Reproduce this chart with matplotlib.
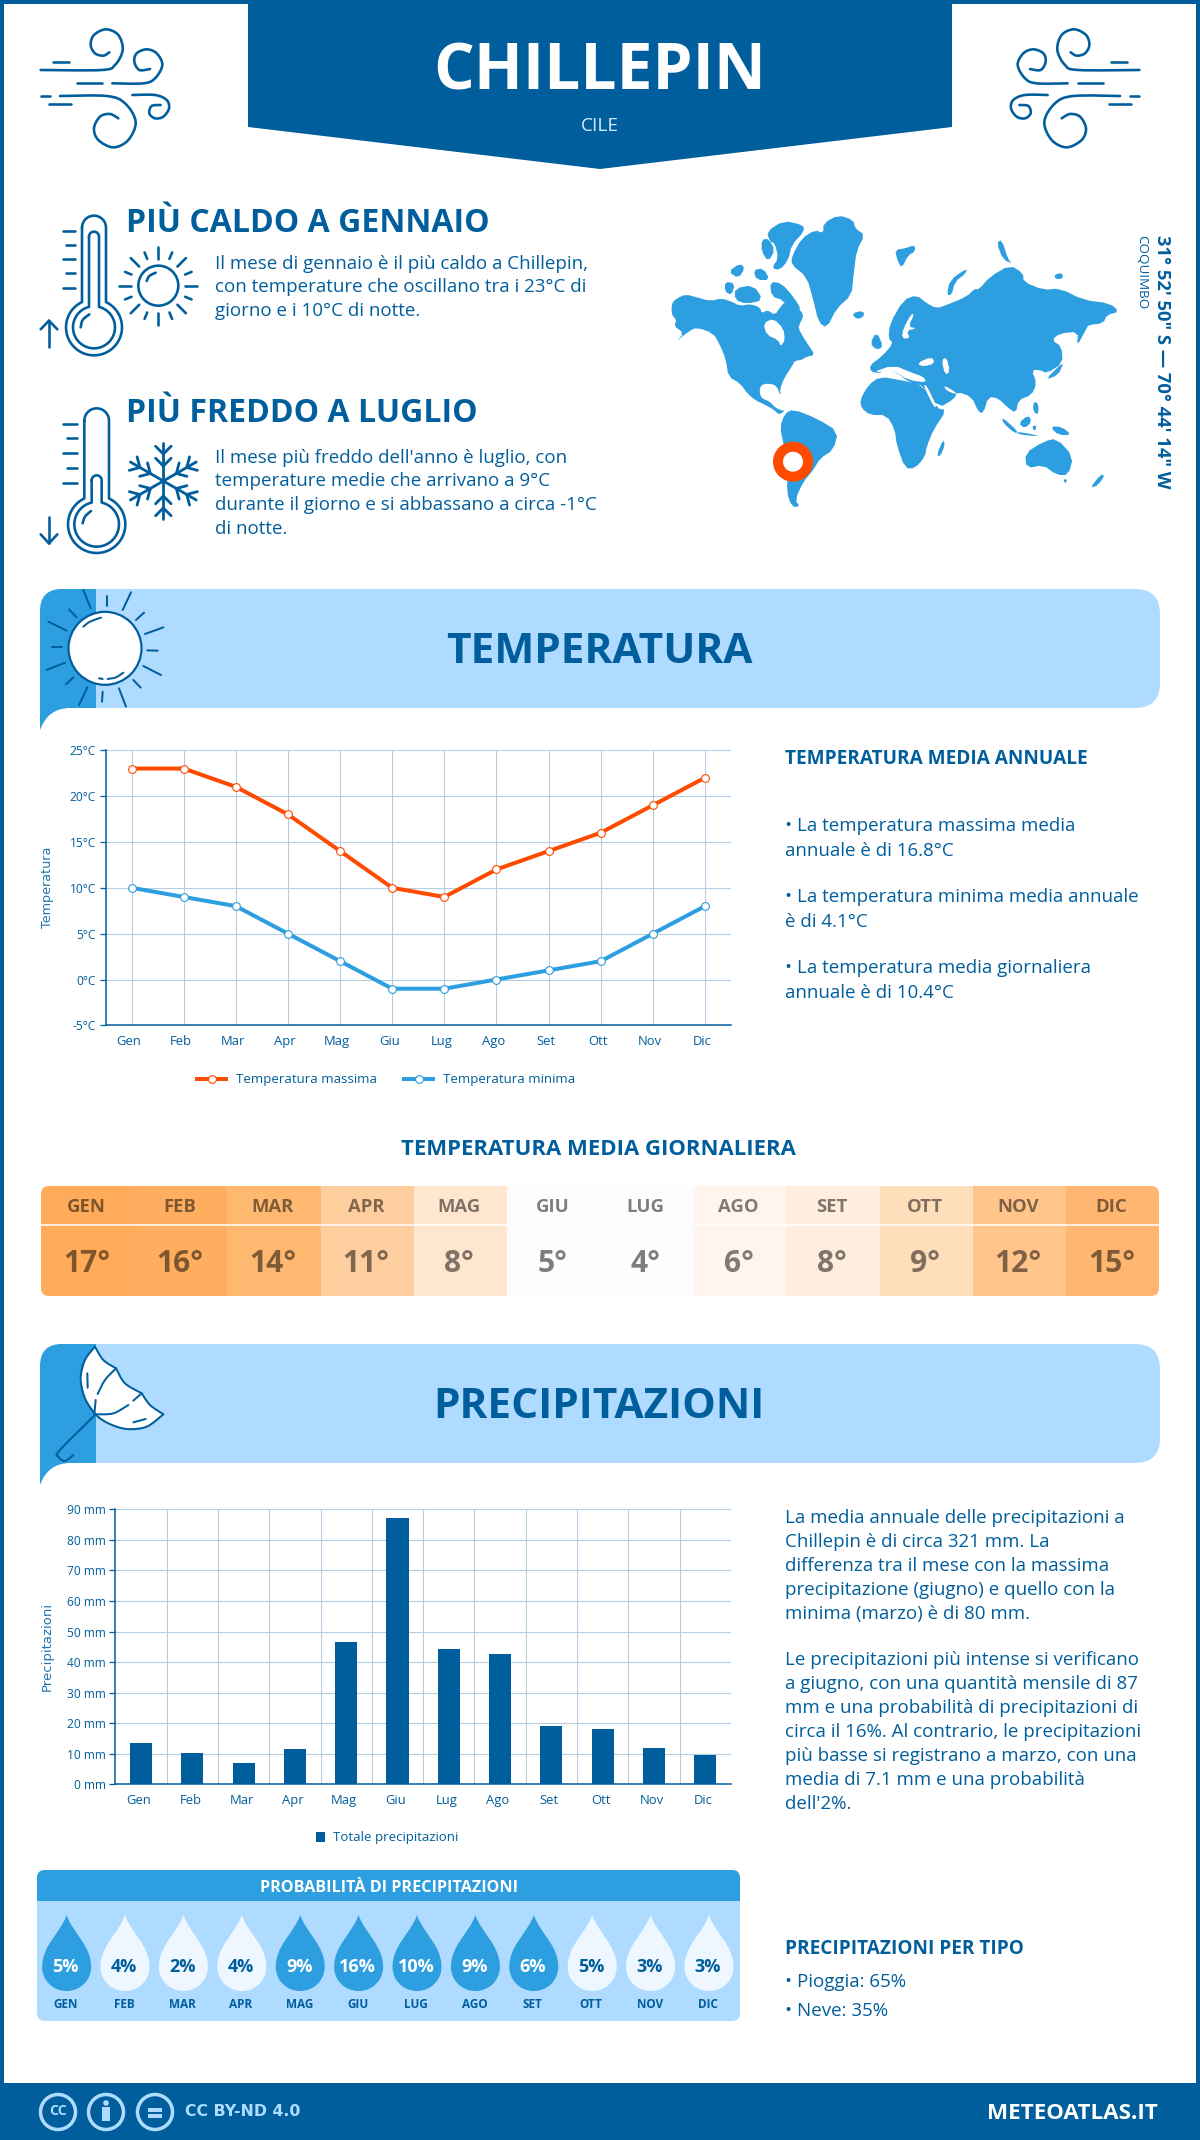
import numpy as np
import matplotlib
matplotlib.use("Agg")
import matplotlib.pyplot as plt
from matplotlib.patches import FancyBboxPatch, Rectangle, Circle, Polygon, PathPatch
from matplotlib.path import Path
from matplotlib.transforms import ScaledTranslation

plt.rcParams['font.family'] = ['Open Sans', 'DejaVu Sans']

# ---------- data ----------
months = ["Gen", "Feb", "Mar", "Apr", "Mag", "Giu", "Lug", "Ago", "Set", "Ott", "Nov", "Dic"]
months_upper = [m.upper() for m in months]
temp_max = [23, 23, 21, 18, 14, 10, 9, 12, 14, 16, 19, 22]
temp_min = [10, 9, 8, 5, 2, -1, -1, 0, 1, 2, 5, 8]
temp_ticks = [-5, 0, 5, 10, 15, 20, 25]
temp_daily = [17, 16, 14, 11, 8, 5, 4, 6, 8, 9, 12, 15]
temp_daily_colors = ["#FFAB5A", "#FFAE60", "#FFB870", "#FFCE9E", "#FFE6CE", "#FFFDFB",
                     "#FDFDFF", "#FFF5EC", "#FFEEDD", "#FFDEBC", "#FFC58B", "#FFB670"]
precip = [13.5, 10.2, 7.1, 11.5, 46.5, 87, 44.2, 42.6, 19, 18, 12, 9.5]
precip_ticks = [0, 10, 20, 30, 40, 50, 60, 70, 80, 90]
rain_prob = [5, 4, 2, 4, 9, 16, 10, 9, 6, 5, 3, 3]
rain_prob_dark = [True, False, False, False, True, True, True, True, True, False, False, False]

DARK = "#015E9C"
MID = "#2D9EDF"
LIGHT = "#AEDBFF"
ORANGE = "#FF4B00"
GRID = "#B4CFE4"

W, H = 1200, 2140
fig = plt.figure(figsize=(W / 100, H / 100), dpi=100, facecolor="white")
ax0 = fig.add_axes([0, 0, 1, 1])
ax0.set_xlim(0, W)
ax0.set_ylim(H, 0)
ax0.axis("off")


def T(x, y, s, px, color=DARK, ha="left", va="center", weight="normal", family=None, **kw):
    if family is not None:
        kw["family"] = family
    else:
        y = y + 0.09 * px
    return ax0.text(x, y, s, fontsize=px * 0.72, color=color, ha=ha, va=va, weight=weight, **kw)


def curve(pts, lw=2.2, color=DARK, fill=None, ax=ax0, z=5):
    pts = np.asarray(pts, float)
    if len(pts) == 2:
        verts, codes = pts, [Path.MOVETO, Path.LINETO]
    else:
        P = np.vstack([pts[0], pts, pts[-1]])
        verts, codes = [pts[0]], [Path.MOVETO]
        for i in range(1, len(P) - 2):
            c1 = P[i] + (P[i + 1] - P[i - 1]) / 6
            c2 = P[i + 1] - (P[i + 2] - P[i]) / 6
            verts += [c1, c2, P[i + 1]]
            codes += [Path.CURVE4] * 3
    ax.add_patch(PathPatch(Path(verts, codes), fc=fill if fill else "none", ec=color,
                           lw=lw * 0.72, capstyle="round", joinstyle="round", zorder=z))


def zm(x0, y0, pts, f=3.0):
    return [(x0 + a / f, y0 + b / f) for a, b in pts]


# ---------- frame / header ----------
for r in [(0, 0, 4, H), (1196, 0, 4, H), (0, 0, W, 4)]:
    ax0.add_patch(Rectangle(r[:2], r[2], r[3], fc=DARK, ec="none", zorder=1))
ax0.add_patch(Polygon([(248, 0), (952, 0), (952, 127), (600, 169), (248, 127)], fc=DARK, ec="none", zorder=1))
T(600, 67, "CHILLEPIN", 64, color="white", ha="center", weight="bold")
T(600, 124, "CILE", 19, color="#D7ECFB", ha="center")


# wind icons
wind = [
    [(62, 180), (245, 180), (285, 165), (308, 120), (295, 75), (258, 58), (222, 75), (212, 105), (225, 130), (250, 137), (268, 127)],
    [(100, 155), (148, 155)],
    [(170, 220), (245, 220)],
    [(277, 220), (370, 220), (405, 205), (427, 165), (410, 130), (380, 118), (350, 130), (343, 155), (358, 180), (390, 177)],
    [(62, 258), (90, 258)],
    [(120, 258), (260, 258), (315, 280), (347, 335), (325, 390), (280, 412), (235, 390), (222, 355), (240, 320), (270, 312), (295, 325)],
    [(87, 283), (153, 283)],
    [(337, 255), (405, 255), (440, 270), (447, 295), (430, 320), (405, 325), (388, 310), (395, 288), (422, 285)],
]
for w in wind:
    p = zm(20, 10, w)
    curve(p, lw=2.6)
    curve([(1180 - a, b) for a, b in p], lw=2.6)


def thermo(x0, y0, cx, hw, ytop, by, R):
    th0 = np.arcsin(hw / R)
    th = np.linspace(th0, 2 * np.pi - th0, 60)
    ph = np.linspace(np.pi, 0, 20)
    ytopc = ytop + hw
    xs = list(cx + hw * np.cos(ph)) + list(cx + R * np.sin(th))
    ys = list(ytopc - hw * np.sin(ph)) + list(by - R * np.cos(th))
    xs.append(xs[0]); ys.append(ys[0])
    v = np.column_stack([x0 + np.array(xs) / 3, y0 + np.array(ys) / 3])
    ax0.plot(v[:, 0], v[:, 1], color=DARK, lw=2.6 * 0.72, zorder=5, solid_capstyle="round")


def seglist(x0, y0, segs, lw=2.6):
    for s in segs:
        curve(zm(x0, y0, s), lw=lw)


# warm thermometer
thermo(20, 200, 222, 36, 47, 382, 84)
thermo(20, 200, 222, 15, 95, 382, 63)
seglist(20, 200, [[(182, 382), (188, 360), (208, 343)],
                  [(128, 93), (165, 93)], [(138, 135), (165, 135)], [(128, 178), (165, 178)],
                  [(138, 220), (165, 220)], [(128, 263), (165, 263)],
                  [(87, 440), (87, 362)], [(62, 388), (87, 362)], [(87, 362), (112, 388)]])
ax0.add_patch(Circle((20 + 415 / 3, 200 + 257 / 3), 20, fc="none", ec=DARK, lw=2.6 * .72, zorder=5))
seglist(20, 200, [[(380, 243), (388, 228), (407, 218)]])
scx, scy = 20 + 415 / 3, 200 + 257 / 3
for i in range(16):
    a = np.deg2rad(i * 22.5)
    r1, r2 = (27, 39) if i % 2 == 0 else (29, 36)
    curve([(scx + r1 * np.cos(a), scy + r1 * np.sin(a)), (scx + r2 * np.cos(a), scy + r2 * np.sin(a))], lw=2.6)

# cold thermometer
thermo(20, 395, 230, 37, 40, 388, 86)
thermo(20, 395, 230, 15, 241, 388, 67)
seglist(20, 395, [[(188, 385), (195, 365), (213, 348)],
                  [(130, 87), (170, 87)], [(140, 130), (170, 130)], [(130, 175), (170, 175)],
                  [(140, 218), (170, 218)], [(130, 263), (170, 263)],
                  [(87, 365), (87, 445)], [(62, 418), (87, 445)], [(87, 445), (112, 418)]])
fx, fy = 20 + 430 / 3, 395 + 258 / 3
for i in range(6):
    a = np.deg2rad(90 + 60 * i)
    d = np.array([np.cos(a), np.sin(a)])
    curve([(fx, fy), (fx + 38 * d[0], fy + 38 * d[1])], lw=2.8)
    for rb, ln in [(27, 11), (15, 11)]:
        for sgn in (-1, 1):
            b = a + sgn * np.deg2rad(45)
            o = np.array([fx, fy]) + rb * d
            curve([o, o + ln * np.array([np.cos(b), np.sin(b)])], lw=2.8)

T(125.5, 221, "PIÙ CALDO A GENNAIO", 32, weight="bold")
for y, s in zip([262, 285.6, 309.5], ["Il mese di gennaio è il più caldo a Chillepin,",
                                      "con temperature che oscillano tra i 23°C di",
                                      "giorno e i 10°C di notte."]):
    T(215, y, s, 18.8)
T(125.5, 411, "PIÙ FREDDO A LUGLIO", 32, weight="bold")
for y, s in zip([456.4, 479.8, 503.7, 527.5], ["Il mese più freddo dell'anno è luglio, con",
                                               "temperature medie che arrivano a 9°C",
                                               "durante il giorno e si abbassano a circa -1°C",
                                               "di notte."]):
    T(215, y, s, 18.8)

# ---------- world map (decorative, traced outline) ----------
land = [
    [(35,310),(50,295),(78,283),(110,292),(150,303),(185,295),(215,305),(240,318),(270,312),(300,322),(305,340),(322,330),(345,345),(358,325),(375,305),(395,315),(410,320),(432,345),(420,370),(415,385),(432,415),(445,435),(465,465),(440,470),(425,480),(405,482),(395,500),(375,530),(360,565),(362,590),(350,557),(325,550),(303,555),(298,575),(305,595),(330,605),(345,622),(365,632),(375,630),(358,645),(340,628),(310,612),(285,600),(262,580),(240,550),(205,530),(198,480),(180,435),(160,400),(110,382),(85,395),(48,425),(72,400),(42,378),(50,360),(35,345)],
    [(205,215),(240,190),(255,205),(235,235)],
    [(195,245),(225,250),(215,285),(195,275)],
    [(225,265),(280,255),(310,300),(260,312),(225,300)],
    [(280,210),(310,205),(330,240),(290,240)],
    [(305,120),(325,115),(345,150),(325,185),(305,155)],
    [(320,95),(370,62),(430,75),(432,95),(395,135),(385,180),(360,210),(335,205),(355,175),(345,130),(330,125)],
    [(330,245),(365,250),(400,290),(425,330),(400,345),(370,300),(335,290)],
    [(490,70),(535,45),(580,60),(585,85),(615,105),(590,150),(580,230),(575,285),(530,325),(500,385),(475,365),(460,300),(440,230),(395,195),(395,170),(425,115),(465,90),(490,100)],
    [(575,340),(610,332),(612,350),(590,358)],
    [(705,150),(735,145),(765,135),(765,155),(745,165),(725,205),(712,180)],
    [(860,285),(870,240),(920,205),(918,220),(885,245),(875,285)],
    [(1010,130),(1025,118),(1045,180),(1058,190),(1030,180)],
    [(1182,225),(1205,218),(1210,235),(1188,238)],
    [(630,495),(665,470),(700,430),(685,415),(690,370),(730,300),(770,285),(800,310),(830,325),(860,315),(920,290),(945,265),(955,270),(990,230),(1050,195),(1090,220),(1090,245),(1150,270),(1200,265),(1270,300),(1350,310),(1378,335),(1340,345),(1330,370),(1285,375),(1280,385),(1250,440),(1255,395),(1200,400),(1175,420),(1205,440),(1208,490),(1160,520),(1140,510),(1115,510),(1130,550),(1115,585),(1075,600),(1068,640),(1040,620),(1015,595),(985,590),(970,640),(955,635),(935,590),(890,575),(885,595),(835,625),(795,560),(745,545),(720,525),(700,515),(670,510),(660,520),(632,515)],
    [(630,430),(650,395),(670,440),(650,450)],
    [(1155,540),(1200,495),(1210,490),(1195,525)],
    [(600,600),(625,555),(660,530),(720,540),(790,555),(830,625),(860,630),(820,690),(800,740),(795,770),(765,805),(735,805),(710,735),(705,690),(680,645),(630,645),(605,625)],
    [(830,765),(850,718),(855,735),(840,770)],
    [(360,680),(375,640),(400,628),(470,655),(535,695),(520,750),(480,775),(460,810),(430,845),(405,900),(420,920),(395,920),(380,875),(385,800),(370,730)],
    [(1095,760),(1150,725),(1190,715),(1240,770),(1225,825),(1190,825),(1150,795),(1100,805)],
    [(1290,865),(1320,825),(1335,825),(1315,855)],
    [(1210,838),(1222,838),(1216,852)],
    [(1025,650),(1075,695),(1065,700),(1030,670)],
    [(1075,670),(1105,645),(1115,665),(1095,685)],
    [(1070,695),(1130,705),(1130,709),(1075,703)],
    [(1170,680),(1205,680),(1235,705),(1195,705)],
    [(1115,680),(1130,675),(1125,695)],
    [(1120,605),(1135,610),(1135,645),(1120,635)],
]
water = [
    [(310,370),(340,355),(370,385),(375,420),(362,440),(355,420),(320,405)],
    [(755,340),(730,385),(725,415),(750,415),(740,392),(770,385),(745,380),(762,345)],
    [(770,490),(815,470),(825,490),(790,500)],
    [(845,480),(860,472),(870,515),(855,525)],
    [(635,518),(700,495),(760,520),(790,530),(800,548),(745,540),(700,512)],
    [(850,555),(890,578),(885,582),(860,572)],
    [(790,555),(800,556),(830,620),(822,622)],
]


def chaikin(p, n=2):
    p = np.asarray(p, float)
    for _ in range(n):
        q = np.roll(p, -1, axis=0)
        p = np.column_stack([.75 * p + .25 * q, .25 * p + .75 * q]).reshape(-1, 2)
    return p


for poly in land:
    ax0.add_patch(Polygon(zm(660, 200, chaikin(poly, 1)), fc=MID, ec="none", zorder=2))
for poly in water:
    ax0.add_patch(Polygon(zm(660, 200, chaikin(poly, 1)), fc="white", ec="none", zorder=3))
ax0.add_patch(Circle((793, 461.7), 15, fc="white", ec=ORANGE, lw=10 * .72, zorder=4))
T(1162, 360, '31° 52\' 50" S — 70° 44\' 14" W', 18.4, ha="center", rotation=270, weight="bold")
T(1142, 271, "COQUIMBO", 13.4, ha="center", rotation=270)


# ---------- section bands ----------
def band(top, title):
    bot = top + 119
    ax0.add_patch(FancyBboxPatch((40, top), 1120, 119, boxstyle="round,pad=0,rounding_size=25",
                                 fc=LIGHT, ec="none", zorder=1))
    verts = [(40, bot + 22), (40, top + 22), (40, top), (62, top), (96, top), (96, bot), (70, bot), (48, bot), (40, bot + 22)]
    codes = [Path.MOVETO, Path.LINETO, Path.CURVE3, Path.CURVE3, Path.LINETO, Path.LINETO, Path.LINETO, Path.CURVE3, Path.CURVE3]
    ax0.add_patch(PathPatch(Path(verts, codes), fc=MID, ec="none", zorder=2))
    T(599, top + 60, title, 42.4, ha="center", weight="bold", zorder=6)


band(589, "TEMPERATURA")
band(1344, "PRECIPITAZIONI")

# sun in band
ax0.add_patch(Circle((30 + 225 / 3, 580 + 205 / 3), 36.5, fc="white", ec=DARK, lw=2.2 * .72, zorder=4))
seglist(30, 580, [[(160, 30), (182, 85)], [(303, 37), (278, 90)], [(400, 142), (345, 162)], [(393, 285), (340, 258)],
                  [(288, 380), (267, 325)], [(147, 375), (172, 322)], [(50, 270), (105, 248)], [(55, 125), (110, 152)],
                  [(230, 48), (230, 78)], [(342, 98), (318, 120)], [(383, 212), (352, 211)], [(332, 323), (310, 300)],
                  [(216, 365), (218, 335)], [(108, 313), (130, 292)], [(67, 200), (97, 200)], [(117, 88), (140, 112)],
                  [(160, 140), (180, 125), (213, 113)], [(233, 297), (258, 292), (280, 278)], [(207, 295), (218, 297)]], lw=2)

# umbrella in band
canopy = [(195,35),(220,75),(258,100),(285,145),(335,175),(360,210),(400,238),(350,275),(290,282),(235,265),(197,238),(165,190),(152,130),(165,75)]
ax0.add_patch(Polygon(zm(30, 1335, canopy), fc="white", ec="none", zorder=4))
seglist(30, 1335, [[(195,35),(220,75),(258,100)], [(258,100),(285,145),(335,175)], [(335,175),(360,210),(400,238)],
                   [(400,238),(350,275),(290,282),(235,265),(197,238),(165,190),(152,130),(165,75),(195,35)],
                   [(258,100),(225,135),(203,177)], [(197,195),(193,238)], [(197,238),(250,235),(295,210)],
                   [(310,197),(335,175)], [(172,115),(173,158)], [(310,262),(347,252)],
                   [(197,238),(90,345),(85,365),(105,378),(130,360)]], lw=2)


def chart_axes(l, t, r, b):
    return fig.add_axes([l / W, 1 - b / H, (r - l) / W, (b - t) / H], facecolor="none")


def style(ax, lab, labpx, labx, l, r, dx):
    for s in ("top", "right"):
        ax.spines[s].set_visible(False)
    for s in ("left", "bottom"):
        ax.spines[s].set_color(DARK)
        ax.spines[s].set_linewidth(1.1)
    ax.tick_params(axis="y", length=4, width=.9, color=DARK, labelcolor=DARK, labelsize=12 * .72, pad=3)
    ax.tick_params(axis="x", which="both", length=0, labelcolor=DARK, labelsize=13 * .72, pad=7)
    ax.set_ylabel(lab, family="DejaVu Sans", fontsize=labpx * .72, color="#2276AE")
    ax.yaxis.set_label_coords((labx - l) / (r - l), 0.5)
    ax.set_axisbelow(True)
    for t in ax.get_xticklabels():
        t.set_transform(t.get_transform() + ScaledTranslation(dx / 100, 0, fig.dpi_scale_trans))


# ---------- temperature chart ----------
L1, R1 = 105.6, 731
ax1 = chart_axes(L1, 750.2, R1, 1025.4)
x = np.arange(12)
ax1.plot(x, temp_max, color=ORANGE, lw=4 * .72, marker="o", ms=5.6, mfc="white", mec=ORANGE, mew=.8, label="Temperatura massima", clip_on=False, zorder=4)
ax1.plot(x, temp_min, color=MID, lw=4 * .72, marker="o", ms=5.6, mfc="white", mec=MID, mew=.8, label="Temperatura minima", clip_on=False, zorder=4)
ax1.set_xlim(-.5, 11.5)
ax1.set_ylim(-5, 25)
ax1.set_xticks(x, months)
ax1.set_yticks(temp_ticks, [f"{v}°C" for v in temp_ticks])
ax1.grid(True, color=GRID, lw=.8)
style(ax1, "Temperatura", 12.8, 54, L1, R1, -3)
ax1.legend(loc="center", bbox_to_anchor=(386, 1080), bbox_transform=ax0.transData, ncols=2, frameon=False,
           fontsize=13.2 * .72, labelcolor=DARK, handlelength=2.2, handletextpad=.7, columnspacing=2.1, borderpad=0)

# ---------- precipitation chart ----------
L2, R2 = 115.3, 731
ax2 = chart_axes(L2, 1509.3, R2, 1784.3)
ax2.bar(x, precip, width=.43, color=DARK, label="Totale precipitazioni", zorder=3)
ax2.set_xlim(-.5, 11.5)
ax2.set_ylim(0, 90)
ax2.set_xticks(x, months)
ax2.set_xticks(x[:-1] + .5, minor=True)
ax2.set_yticks(precip_ticks, [f"{v} mm" for v in precip_ticks])
ax2.grid(True, axis="y", color=GRID, lw=.8)
ax2.grid(True, axis="x", which="minor", color=GRID, lw=.8)
style(ax2, "Precipitazioni", 13.2, 54, L2, R2, -2)
ax2.legend(loc="center", bbox_to_anchor=(387, 1838), bbox_transform=ax0.transData, frameon=False,
           fontsize=13.2 * .72, labelcolor=DARK, handlelength=.7, handleheight=.7, handletextpad=.55, borderpad=0)

# ---------- right-hand text ----------
T(785, 757, "TEMPERATURA MEDIA ANNUALE", 19, weight="bold")
for y, s in zip([824.5, 849, 895.5, 920, 966.4, 991],
                ["• La temperatura massima media", "annuale è di 16.8°C",
                 "• La temperatura minima media annuale", "è di 4.1°C",
                 "• La temperatura media giornaliera", "annuale è di 10.4°C"]):
    T(785, y, s, 18.8)
ptext = ["La media annuale delle precipitazioni a", "Chillepin è di circa 321 mm. La",
         "differenza tra il mese con la massima", "precipitazione (giugno) e quello con la",
         "minima (marzo) è di 80 mm.",
         "Le precipitazioni più intense si verificano", "a giugno, con una quantità mensile di 87",
         "mm e una probabilità di precipitazioni di", "circa il 16%. Al contrario, le precipitazioni",
         "più basse si registrano a marzo, con una", "media di 7.1 mm e una probabilità", "dell'2%."]
ply = [1516.7, 1540, 1564, 1588, 1612.7, 1658, 1682, 1706, 1730, 1754, 1778, 1802]
for y, s in zip(ply, ptext):
    T(785, y, s, 18.8)

# ---------- daily temperature table ----------
T(598, 1148, "TEMPERATURA MEDIA GIORNALIERA", 22.2, ha="center", weight="bold")
clip = FancyBboxPatch((41, 1186), 1118, 110, boxstyle="round,pad=0,rounding_size=8", fc="none", ec="none", transform=ax0.transData)
ax0.add_patch(clip)
cw = 1118 / 12
for i, (m, v, c) in enumerate(zip(months_upper, temp_daily, temp_daily_colors)):
    r = Rectangle((41 + i * cw, 1186), cw + .5, 110, fc=c, ec="none", zorder=2)
    ax0.add_patch(r)
    r.set_clip_path(clip)
    xc = 41 + (i + .5) * cw
    T(xc - 1, 1205, m, 18.5, color="#00000080", ha="center", weight="bold", zorder=4)
    T(xc - 1, 1261, f"{v}°", 30, color="#00000080", ha="center", weight="bold", zorder=4)
ax0.plot([41, 1159], [1225, 1225], color="white", lw=1.1, zorder=3)

# ---------- rain probability ----------
clip2 = FancyBboxPatch((37, 1870), 703, 151, boxstyle="round,pad=0,rounding_size=8", fc="none", ec="none", transform=ax0.transData)
ax0.add_patch(clip2)
r = Rectangle((37, 1870), 703, 151, fc=LIGHT, ec="none", zorder=1); ax0.add_patch(r); r.set_clip_path(clip2)
r = Rectangle((37, 1870), 703, 31, fc=MID, ec="none", zorder=2); ax0.add_patch(r); r.set_clip_path(clip2)
T(389, 1886.5, "PROBABILITÀ DI PRECIPITAZIONI", 16.1, color="white", ha="center", weight="bold", zorder=4)
for i, (m, v, dk) in enumerate(zip(months_upper, rain_prob, rain_prob_dark)):
    xc = 66.6 + i * 58.4
    top, cy, R = 1915, 1967, 24.5
    verts = [(xc, top), (xc + 6, top + 18), (xc + R, cy - 22), (xc + R, cy),
             (xc + R, cy + 13.5), (xc + 13.5, cy + 24), (xc, cy + 24),
             (xc - 13.5, cy + 24), (xc - R, cy + 13.5), (xc - R, cy),
             (xc - R, cy - 22), (xc - 6, top + 18), (xc, top)]
    codes = [Path.MOVETO] + [Path.CURVE4] * 12
    ax0.add_patch(PathPatch(Path(verts, codes), fc=MID if dk else "#EEF7FF", ec="none", zorder=3))
    T(xc - 1, 1965, f"{v}%", 18, color="white" if dk else DARK, ha="center", weight="bold", zorder=4)
    T(xc - 1, 2003, m, 11.8, color=DARK, ha="center", weight="bold", zorder=4)

T(785, 1947, "PRECIPITAZIONI PER TIPO", 19, weight="bold")
T(785, 1980, "• Pioggia: 65%", 18.8)
T(785, 2009, "• Neve: 35%", 18.8)

# ---------- footer ----------
ax0.add_patch(Rectangle((0, 2083), W, 57, fc=DARK, ec="none", zorder=2))
for cx in (58, 106, 155):
    ax0.add_patch(Circle((cx, 2112), 17.5, fc="none", ec=LIGHT, lw=3.5 * .72, zorder=3))
T(58, 2110, "CC", 14, color=LIGHT, ha="center", weight="bold", zorder=4)
ax0.add_patch(Circle((106, 2103), 2.8, fc=LIGHT, ec="none", zorder=4))
ax0.add_patch(Rectangle((102, 2107), 8, 14, fc=LIGHT, ec="none", zorder=4))
for yy in (2107.5, 2114):
    ax0.add_patch(Rectangle((148, yy), 14, 4, fc=LIGHT, ec="none", zorder=4))
T(185, 2112, "CC BY-ND 4.0", 15.8, color=LIGHT, weight="bold", family="DejaVu Sans", zorder=4)
T(1158, 2111, "METEOATLAS.IT", 22.4, color="white", ha="right", weight="bold", zorder=4)

fig.savefig("out.png", dpi=100, facecolor="white")
